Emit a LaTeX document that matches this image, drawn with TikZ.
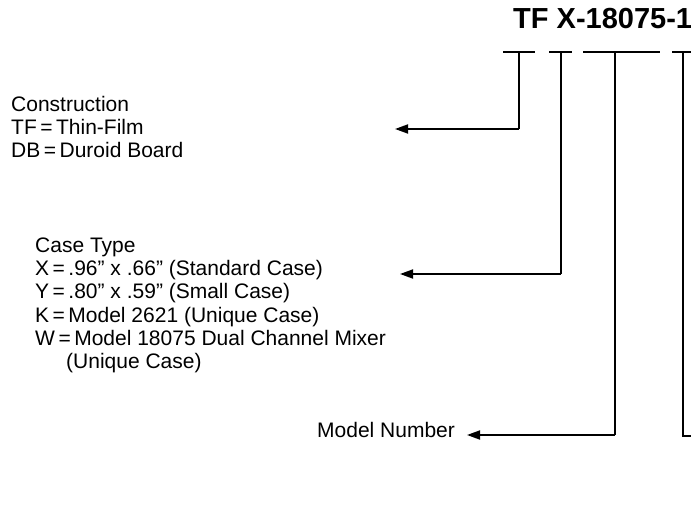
\documentclass[tikz,border=0pt]{standalone}
\usepackage{fontspec}
\setmainfont{Liberation Sans}
\usetikzlibrary{arrows.meta}
\tikzset{
  label/.style={anchor=base west, inner sep=0pt, font=\fontsize{21}{24}\selectfont},
  bar/.style={line width=1.6pt},
  lead/.style={line width=1.5pt},
  pointer/.style={line width=1.8pt, -{Triangle[length=13pt,width=9pt]}}
}
\begin{document}
\begin{tikzpicture}[x=1pt, y=-1pt]
\useasboundingbox (0,0) rectangle (691,508);

% part number
\node[anchor=base west, inner sep=0pt, font=\fontsize{29}{32}\bfseries\selectfont] (pn) at (513,29) {TF X-18075-1};

% field bars under the part number
\coordinate (b1l) at (503,52); \coordinate (b1r) at (535,52); \coordinate (b1) at (519,52);
\coordinate (b2l) at (549,52); \coordinate (b2r) at (572,52); \coordinate (b2) at (561,52);
\coordinate (b3l) at (583,52); \coordinate (b3r) at (660,52); \coordinate (b3) at (615,52);
\coordinate (b4l) at (672,52); \coordinate (b4r) at (695,52); \coordinate (b4) at (683,52);
\draw[bar] (b1l) -- (b1r);
\draw[bar] (b2l) -- (b2r);
\draw[bar] (b3l) -- (b3r);
\draw[bar] (b4l) -- (b4r);

% construction field
\node[label] (cons)  at (11,112) {Construction};
\node[label] (consa) at (11,135) {TF\,=\,Thin-Film};
\node[label] (consb) at (11,158) {DB\,=\,Duroid Board};

% case type field
\node[label] (case)  at (35,252) {Case Type};
\node[label] (casex) at (35,275) {X\,=\,.96" x .66" (Standard Case)};
\node[label] (casey) at (35,298) {Y\,=\,.80" x .59" (Small Case)};
\node[label] (casek) at (35,322) {K\,=\,Model 2621 (Unique Case)};
\node[label] (casew) at (35,345) {W\,=\,Model 18075 Dual Channel Mixer};
\node[label] (casewu) at (66,368) {(Unique Case)};

% model number field
\node[label] (model) at (317,437) {Model Number};

% leaders
\coordinate (t1) at (395,129);
\coordinate (t2) at (400,274);
\coordinate (t3) at (467,435);
\coordinate (e4) at (695,436);
\draw[lead] (b1) -- (b1 |- t1);
\draw[pointer] (b1 |- t1) -- (t1);
\draw[lead] (b2) -- (b2 |- t2);
\draw[pointer] (b2 |- t2) -- (t2);
\draw[lead] (b3) -- (b3 |- t3);
\draw[pointer] (b3 |- t3) -- (t3);
\draw[lead] (b4) -- (b4 |- e4) -- (e4);
\end{tikzpicture}
\end{document}
